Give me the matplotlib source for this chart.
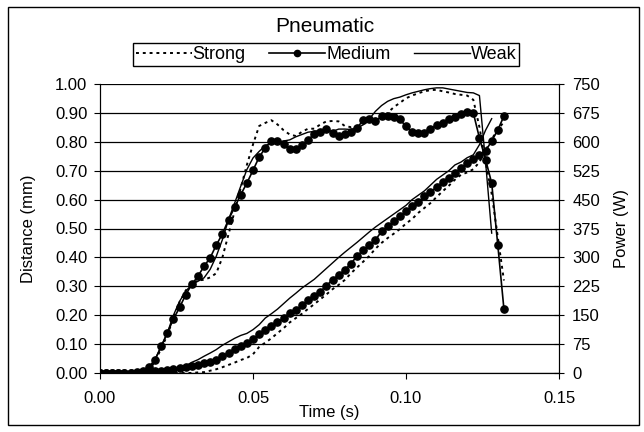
import matplotlib.pyplot as plt
import matplotlib.patches as patches
from matplotlib.lines import Line2D

plt.rcParams['font.family'] = ['Liberation Sans', 'DejaVu Sans']

# sample times (s), 2 ms apart
time = [0.000, 0.002, 0.004, 0.006, 0.008, 0.010, 0.012, 0.014, 0.016, 0.018,
        0.020, 0.022, 0.024, 0.026, 0.028, 0.030, 0.032, 0.034, 0.036, 0.038,
        0.040, 0.042, 0.044, 0.046, 0.048, 0.050, 0.052, 0.054, 0.056, 0.058,
        0.060, 0.062, 0.064, 0.066, 0.068, 0.070, 0.072, 0.074, 0.076, 0.078,
        0.080, 0.082, 0.084, 0.086, 0.088, 0.090, 0.092, 0.094, 0.096, 0.098,
        0.100, 0.102, 0.104, 0.106, 0.108, 0.110, 0.112, 0.114, 0.116, 0.118,
        0.120, 0.122, 0.124, 0.126, 0.128, 0.130, 0.132]

# distance (mm)
strong_dist = [0, 0, 0, 0, 0, 0, 0, 0, 0, 0,
               0, 0, 0, 0, 0, 0, 0.002, 0.003, 0.008, 0.013,
               0.02, 0.028, 0.036, 0.045, 0.052, 0.065, 0.09, 0.105, 0.12, 0.138,
               0.155, 0.175, 0.19, 0.205, 0.222, 0.238, 0.255, 0.272, 0.29, 0.305,
               0.322, 0.345, 0.365, 0.385, 0.405, 0.43, 0.45, 0.467, 0.482, 0.498,
               0.517, 0.533, 0.554, 0.571, 0.588, 0.609, 0.629, 0.648, 0.669, 0.686,
               0.694, 0.705, 0.73, 0.77, 0.81, 0.84, 0.87]
medium_dist = [0, 0, 0, 0, 0, 0, 0, 0, 0.005, 0.006,
               0.006, 0.012, 0.014, 0.017, 0.021, 0.025, 0.029, 0.033, 0.038, 0.046,
               0.058, 0.07, 0.083, 0.092, 0.104, 0.117, 0.136, 0.150, 0.161, 0.175,
               0.190, 0.208, 0.219, 0.234, 0.252, 0.268, 0.282, 0.302, 0.323, 0.339,
               0.357, 0.378, 0.405, 0.425, 0.442, 0.46, 0.49, 0.507, 0.525, 0.542,
               0.559, 0.577, 0.591, 0.611, 0.625, 0.644, 0.660, 0.675, 0.692, 0.709,
               0.727, 0.740, 0.755, 0.768, 0.803, 0.841, 0.889]
weak_dist = [0, 0, 0, 0, 0, 0, 0, 0, 0, 0,
             0.002, 0.004, 0.006, 0.012, 0.025, 0.037, 0.046, 0.058, 0.069, 0.081,
             0.096, 0.108, 0.12, 0.13, 0.137, 0.15, 0.167, 0.19, 0.205, 0.221,
             0.240, 0.259, 0.276, 0.294, 0.309, 0.324, 0.343, 0.362, 0.381, 0.400,
             0.418, 0.435, 0.452, 0.47, 0.488, 0.505, 0.52, 0.535, 0.55, 0.565,
             0.58, 0.60, 0.615, 0.63, 0.65, 0.67, 0.685, 0.70, 0.72, 0.73,
             0.745, 0.755, 0.79, 0.84, 0.88]

# power (W)
strong_pow = [0, 0, 0, 0, 0, 0, 0, 0, 8, 30,
              64, 98, 143, 184, 214, 233, 240, 242, 248, 259,
              300, 360, 420, 480, 540, 593, 641, 649, 656, 645,
              630, 619, 615, 626, 634, 634, 645, 653, 654, 653,
              641, 638, 641, 653, 656, 660, 660, 675, 690, 701,
              713, 720, 726, 731, 734, 735, 731, 728, 724, 722,
              720, 709, 638, 548, 465, 353, 240]
medium_pow = [0, 0, 0, 0, 0, 0, 2, 4, 15, 35,
              69, 104, 140, 170, 203, 230, 251, 277, 299, 332,
              361, 398, 430, 463, 493, 526, 560, 584, 602, 602,
              593, 582, 582, 591, 604, 621, 626, 633, 623, 614,
              621, 626, 636, 656, 658, 653, 666, 668, 665, 658,
              640, 625, 623, 623, 632, 644, 650, 658, 665, 671,
              677, 675, 610, 554, 493, 332, 166]
weak_pow = [0, 0, 0, 0, 0, 0, 0, 0, 9, 35,
            69, 104, 150, 186, 212, 230, 238, 247, 269, 303,
            346, 398, 441, 485, 528, 558, 575, 590, 597, 599,
            602, 605, 613, 619, 625, 627, 630, 630, 627, 633,
            633, 632, 636, 644, 659, 679, 694, 705, 712, 716,
            722, 727, 731, 735, 738, 740, 740, 737, 734, 731,
            728, 727, 720, 548, 363]

dotted = (0, (1.5, 2))

fig = plt.figure(figsize=(6.44, 4.32), dpi=100)
ax = fig.add_axes([100/644, 1-373/432, 459/644, 289/432])
ax2 = ax.twinx()

# distance on left axis
ax.plot(time, strong_dist, color='black', linestyle=dotted, linewidth=1.4)
ax.plot(time, medium_dist, color='black', linewidth=1.2, marker='o', markersize=5.2)
ax.plot(time[:len(weak_dist)], weak_dist, color='black', linewidth=1.0)

# power on right axis
ax2.plot(time, strong_pow, color='black', linestyle=dotted, linewidth=1.4)
ax2.plot(time, medium_pow, color='black', linewidth=1.2, marker='o', markersize=5.2)
ax2.plot(time[:len(weak_pow)], weak_pow, color='black', linewidth=1.0)

ax.set_xlim(0, 0.15)
ax.set_ylim(0, 1.0)
ax2.set_ylim(0, 750)
ax.set_xticks([0, 0.05, 0.10, 0.15])
ax.set_xticklabels(['0.00', '0.05', '0.10', '0.15'])
ax.set_yticks([i/10 for i in range(11)])
ax.set_yticklabels(['%.2f' % (i/10) for i in range(11)])
ax2.set_yticks(range(0, 751, 75))

ax.grid(axis='y', color='black', linewidth=0.9)
ax.set_axisbelow(True)
ax.spines['top'].set_visible(False)
ax2.spines['top'].set_visible(False)
for a in (ax, ax2):
    a.tick_params(labelsize=12, length=4, width=0.8)
ax.tick_params(axis='x', pad=9)
ax.tick_params(axis='y', pad=5)
ax2.tick_params(direction='inout', length=7, pad=6)

ax.set_xlabel('Time (s)', fontsize=12, labelpad=-1)
ax.set_ylabel('Distance (mm)', fontsize=12, labelpad=14)
ax2.set_ylabel('Power (W)', fontsize=12, labelpad=10)

fig.text(325/644, 1-26/432, 'Pneumatic', fontsize=15, ha='center', va='center')

handles = [Line2D([], [], color='black', linestyle=dotted, linewidth=1.4),
           Line2D([], [], color='black', linewidth=1.2, marker='o', markersize=4.5),
           Line2D([], [], color='black', linewidth=1.0)]
leg = fig.legend(handles, ['Strong', 'Medium', 'Weak'], ncol=3, loc='center',
                 bbox_to_anchor=(326/644, 1-54.5/432), fontsize=13, frameon=True,
                 fancybox=False, edgecolor='black', framealpha=1,
                 handlelength=3.1, handletextpad=0.05, columnspacing=1.3,
                 borderpad=0.15, borderaxespad=0)
leg.get_frame().set_linewidth(1.0)

fig.patches.append(patches.Rectangle((8/644, 7/432), 631/644, 418/432, transform=fig.transFigure,
                                     fill=False, edgecolor='black', linewidth=1.0))

plt.savefig('out.png', dpi=100)
